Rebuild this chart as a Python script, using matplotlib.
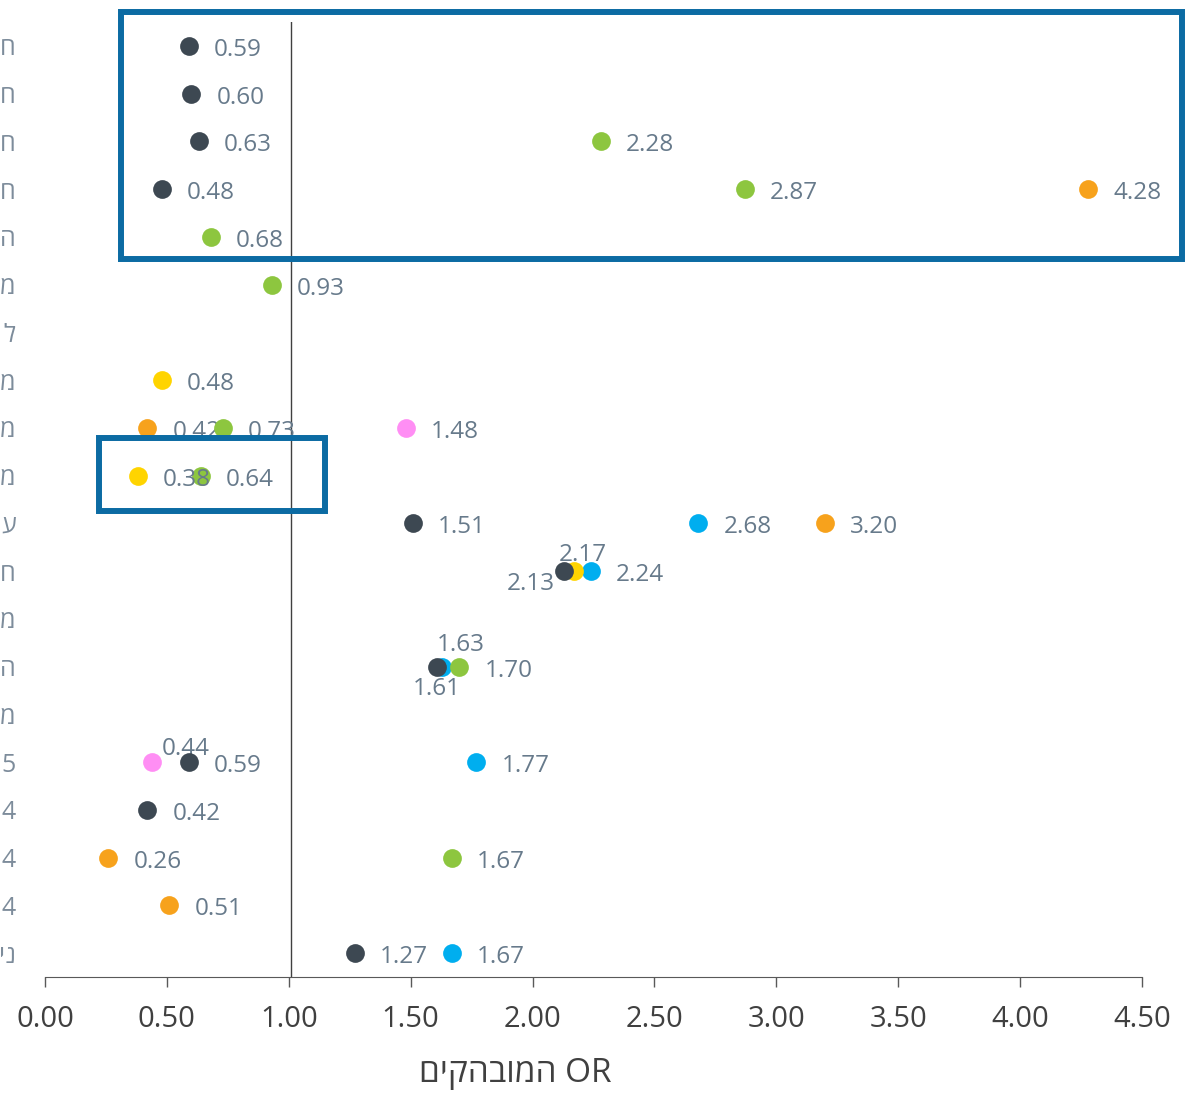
import matplotlib
matplotlib.use("Agg")
import matplotlib.pyplot as plt
from matplotlib.patches import Rectangle

plt.rcParams['font.family'] = ['Open Sans', 'DejaVu Sans']

# row labels (only the last letter of each survives at the left edge)
row_labels = ['ח', 'ח', 'ח', 'ח', 'ה', 'מ', 'ל', 'מ', 'מ', 'מ',
              'ע', 'ח', 'מ', 'ה', 'מ', '5', '4', '4', '4', 'ינ']

# odds ratios per group, None where not significant
dark = [0.59, 0.60, 0.63, 0.48, None, None, None, None, None, None,
        1.51, 2.13, None, 1.61, None, 0.59, 0.42, None, None, 1.27]
green = [None, None, 2.28, 2.87, 0.68, 0.93, None, None, 0.73, 0.64,
         None, None, None, 1.70, None, None, None, 1.67, None, None]
orange = [None, None, None, 4.28, None, None, None, None, 0.42, None,
          3.20, None, None, None, None, None, None, 0.26, 0.51, None]
yellow = [None, None, None, None, None, None, None, 0.48, None, 0.38,
          None, 2.17, None, None, None, None, None, None, None, None]
blue = [None, None, None, None, None, None, None, None, None, None,
        2.68, 2.24, None, 1.63, None, 1.77, None, None, None, 1.67]
pink = [None, None, None, None, None, None, None, None, 1.48, None,
        None, None, None, None, None, 0.44, None, None, None, None]

xticks = [0.0, 0.5, 1.0, 1.5, 2.0, 2.5, 3.0, 3.5, 4.0, 4.5]
ref_x = 1.01
xlabel = 'המובהקים'[::-1] + ' OR'

# drawing order (later on top)
series = [
    ('blue', blue, '#00AEEF'),
    ('pink', pink, '#FF8EF4'),
    ('orange', orange, '#F7A21C'),
    ('green', green, '#8DC63F'),
    ('yellow', yellow, '#FFD400'),
    ('dark', dark, '#3D4852'),
]

# label offsets in pixels for crowded points: (dx, dy, ha)
label_pos = {
    ('dark', 11): (-9, -13, 'right'),
    ('yellow', 11): (9, 16, 'center'),
    ('dark', 13): (-1, -22, 'center'),
    ('blue', 13): (18, 22, 'center'),
    ('pink', 15): (33, 13, 'center'),
}

fig = plt.figure(figsize=(11.92, 10.95), dpi=100)
W, H = 1192, 1095
ax = fig.add_axes([45 / W, (H - 977) / H, (1142 - 45) / W, (977 - 22) / H])

rows = list(range(len(row_labels)))
for z, (name, vals, col) in enumerate(series):
    for r, v in zip(rows, vals):
        if v is None:
            continue
        ax.plot(v, r, 'o', ms=13.5, color=col, mec='none', zorder=5 + 2 * z,
                clip_on=False)
        dx, dy, ha = label_pos.get((name, r), (25, -4, 'left'))
        ax.annotate('%.2f' % v, (v, r), xytext=(dx, dy),
                    textcoords='offset pixels', ha=ha, va='center',
                    fontsize=17.5, color='#677a8b', zorder=6 + 2 * z)

ax.axvline(ref_x, color='#404040', lw=1, zorder=2)

ax.set_xlim(0, 4.5)
ax.set_ylim(len(rows) - 0.5, -0.5)
ax.set_xticks(xticks)
ax.set_xticklabels(['%.2f' % t for t in xticks], fontsize=21, color='#404040')
ax.tick_params(axis='x', length=7, width=1, color='#595959', pad=13)
ax.set_yticks(rows)
ax.set_yticklabels(row_labels, fontsize=18, color='#7d8c9b')
ax.tick_params(axis='y', length=0, pad=21)
for s in ['top', 'right', 'left']:
    ax.spines[s].set_visible(False)
ax.spines['bottom'].set_color('#595959')
ax.set_xlabel(xlabel, fontsize=24, color='#404040')
ax.xaxis.set_label_coords((515 - 45) / (1142 - 45), -(1073 - 977) / (977 - 22))
ax.xaxis.label.set_va('center')

# highlight boxes
box_col = '#0C6BA3'
ax.add_patch(Rectangle((0.312, -0.70), 4.664 - 0.312, 4.47 + 0.70, fill=False,
                       ec=box_col, lw=4.3, clip_on=False, zorder=20))
ax.add_patch(Rectangle((0.221, 8.22), 1.149 - 0.221, 9.75 - 8.22, fill=False,
                       ec=box_col, lw=4.3, clip_on=False, zorder=20))

fig.savefig('out.png', dpi=100)
